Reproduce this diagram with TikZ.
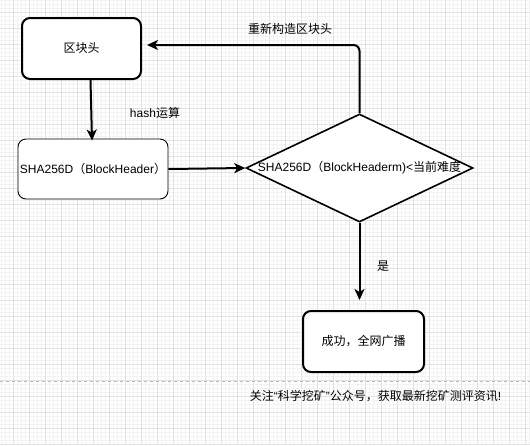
\documentclass[tikz,border=0pt]{standalone}
\usepackage{fontspec}
\setmainfont{Liberation Sans}
\newfontfamily\cjk{Noto Sans CJK SC}
\usetikzlibrary{arrows.meta,shapes.geometric}
\definecolor{gridmajor}{HTML}{E2E2E2}
\definecolor{gridminor}{HTML}{F3F3F3}
\definecolor{dashgray}{HTML}{BBBBBB}
\tikzset{
  txt/.style={font=\fontsize{12pt}{14pt}\selectfont, text=black},
  boxthick/.style={txt, draw=black, line width=2pt, rounded corners=8pt, fill=white, inner sep=0pt},
  boxthin/.style={txt, draw=black, line width=0.9pt, rounded corners=8pt, fill=white, inner sep=0pt},
  decision/.style={txt, diamond, draw=black, line width=1.6pt, fill=white, inner sep=0pt, aspect=2.1},
  arr/.style={line width=2pt, -{Stealth[length=11pt,width=10pt,inset=3pt]}},
  lbl/.style={txt}
}
\begin{document}
\begin{tikzpicture}[x=1pt,y=-1pt]
\useasboundingbox (0,0) rectangle (530,445);
\fill[white] (0,0) rectangle (530,445);
% grid
\foreach \k in {0,...,132} {
  \draw[gridminor, line width=0.5pt] ({1.3+4*\k},0) -- ({1.3+4*\k},445);
}
\foreach \k in {0,...,111} {
  \draw[gridminor, line width=0.5pt] (0,{0.3+4*\k}) -- (530,{0.3+4*\k});
}
\foreach \k in {0,...,32} {
  \draw[gridmajor, line width=0.8pt] ({13.3+16*\k},0) -- ({13.3+16*\k},445);
}
\foreach \k in {0,...,27} {
  \draw[gridmajor, line width=0.8pt] (0,{12.3+16*\k}) -- (530,{12.3+16*\k});
}
% dashed separator
\draw[dashgray, line width=0.8pt, dash pattern=on 3pt off 3pt] (0,381) -- (530,381);

% nodes
\node[boxthick, minimum width=119pt, minimum height=61pt] (hdr) at (81.5,48.5) {\cjk 区块头};
\node[boxthin, minimum width=150pt, minimum height=60pt] (sha) at (93,169) {\makebox[0pt]{SHA256D{\cjk （}BlockHeader{\cjk ）}}};
\node[decision, minimum width=227pt, minimum height=108pt] (dia) at (359.5,168) {\makebox[0pt]{SHA256D{\cjk （}BlockHeaderm)<{\cjk 当前难度}}};
\node[boxthick, minimum width=121pt, minimum height=61pt] (ok) at (363.5,341.5) {\cjk 成功，全网广播};

\coordinate (loopend) at (147,45);
\coordinate (yesend) at (359.5,300);

% connectors
\draw[arr] ([xshift=9pt]hdr.south) -- ([xshift=-1pt,yshift=-2pt]sha.north);
\draw[arr] (sha.east) -- (dia.west);
\draw[arr, rounded corners=6pt] (dia.north) |- (loopend);
\draw[arr] (dia.south) -- (yesend);

% labels
\node[lbl] (l1) at (155,113) {hash{\cjk 运算}};
\node[lbl] (l2) at (290,29) {\cjk 重新构造区块头};
\node[lbl] (l3) at (383,266) {\cjk 是};
\node[lbl] (l4) at (375.5,396) {{\cjk 关注}“{\cjk 科学挖矿}”{\cjk 公众号，获取最新挖矿测评资讯}!};
\end{tikzpicture}
\end{document}
